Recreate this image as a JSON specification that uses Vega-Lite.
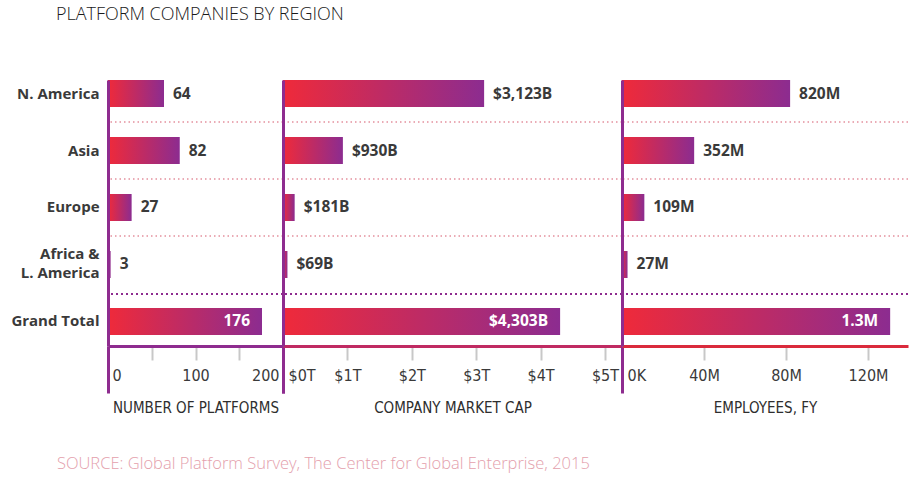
{
  "$schema": "https://vega.github.io/schema/vega-lite/v6.json",
  "background": "white",
  "padding": {"left": 10, "top": 6, "right": 5, "bottom": 5},
  "title": {"text": "PLATFORM COMPANIES BY REGION", "anchor": "start", "font": "Open Sans", "fontSize": 18, "fontWeight": 300, "color": "#1a1a1a", "dx": 45, "offset": 56},
  "data": {"values": [
    {"region": "N. America", "platforms": 64, "marketcap": 3123, "employees": 82.0, "platformsLabel": "64", "capLabel": "$3,123B", "empLabel": "820M"},
    {"region": "Asia", "platforms": 82, "marketcap": 930, "employees": 35.2, "platformsLabel": "82", "capLabel": "$930B", "empLabel": "352M"},
    {"region": "Europe", "platforms": 27, "marketcap": 181, "employees": 10.9, "platformsLabel": "27", "capLabel": "$181B", "empLabel": "109M"},
    {"region": "Africa & L. America", "platforms": 3, "marketcap": 69, "employees": 2.7, "platformsLabel": "3", "capLabel": "$69B", "empLabel": "27M"},
    {"region": "Grand Total", "platforms": 176, "marketcap": 4303, "employees": 130.8, "platformsLabel": "176", "capLabel": "$4,303B", "empLabel": "1.3M"}
  ]},
  "vconcat": [
    {
      "title": {"text": "SOURCE: Global Platform Survey, The Center for Global Enterprise, 2015", "orient": "bottom", "anchor": "start", "font": "Open Sans", "fontSize": 16.5, "fontWeight": 300, "color": "#E4A0AC", "dx": 46, "offset": 40},
      "spacing": 0,
      "bounds": "flush",
      "resolve": {"scale": {"x": "independent"}},
      "hconcat": [
        {
          "width": 175, "height": 266,
          "encoding": {
            "y": {"field": "region", "type": "nominal", "sort": null,
              "scale": {"domain": ["N. America", "Asia", "Europe", "Africa & L. America", "Grand Total"], "paddingInner": 0.526, "paddingOuter": 0.0965, "align": 0},
              "axis": {"title": null, "ticks": false, "grid": false, "domainColor": "#8E2C8F", "domainWidth": 3, "zindex": 1, "labelFont": "Open Sans", "labelFontWeight": "bold", "labelFontSize": 15, "labelColor": "#3a3a3a", "labelPadding": 9, "labelLineHeight": 18.5,
                "labelOffset": {"condition": {"test": "datum.value === 'Africa & L. America'", "value": -10}, "value": 0},
                "labelExpr": "datum.value === 'Africa & L. America' ? ['Africa &', 'L. America'] : datum.label"}}
          },
          "layer": [
            {"mark": {"type": "bar", "fill": {"gradient": "linear", "x1": 0, "x2": 1, "y1": 0, "y2": 0, "stops": [{"offset": 0, "color": "#EF2A3A"}, {"offset": 1, "color": "#8C2C90"}]}},
             "encoding": {"x": {"field": "platforms", "type": "quantitative", "scale": {"domain": [0, 200], "nice": false},
               "axis": {"values": [0, 50, 100, 150, 200], "labelExpr": "datum.value % 100 === 0 ? datum.label : ''", "title": "NUMBER OF PLATFORMS", "grid": false, "zindex": 1,
                 "domainColor": "#8E2C8F", "domainWidth": 3,
                 "tickColor": {"condition": {"test": "datum.value === 0 || datum.value === 200", "value": "#8E2C8F"}, "value": "#C8C8C8"},
                 "tickWidth": {"condition": {"test": "datum.value === 0 || datum.value === 200", "value": 3}, "value": 2},
                 "tickSize": {"condition": {"test": "datum.value === 0 || datum.value === 200", "value": 47}, "value": 14},
                 "labelPadding": {"condition": {"test": "datum.value === 0 || datum.value === 200", "value": -26}, "value": 7},
                 "labelAlign": {"condition": [{"test": "datum.value === 0", "value": "left"}, {"test": "datum.value === 200", "value": "right"}], "value": "center"},
                 "labelOffset": {"condition": [{"test": "datum.value === 0", "value": 4}, {"test": "datum.value === 200", "value": -4}], "value": 0},
                 "labelFont": "Liberation Sans Narrow, DejaVu Sans Condensed, sans-serif", "labelFontSize": 16, "labelColor": "#3a3a3a",
                 "titleFont": "Liberation Sans Narrow, DejaVu Sans Condensed, sans-serif", "titleFontSize": 15, "titleFontWeight": 500, "titleColor": "#2e2e2e", "titlePadding": 6}}}},
            {"transform": [{"filter": "datum.region !== 'N. America' && datum.region !== 'Grand Total'"}],
             "mark": {"type": "rule", "stroke": "#E3909D", "strokeWidth": 1.5, "strokeDash": [1.5, 3], "yOffset": -15},
             "encoding": {"y": {"field": "region", "type": "nominal", "sort": null, "bandPosition": 0}}},
            {"transform": [{"filter": "datum.region === 'Grand Total'"}],
             "mark": {"type": "rule", "stroke": "#8E2C8F", "strokeWidth": 2, "strokeDash": [2, 3], "yOffset": -14},
             "encoding": {"y": {"field": "region", "type": "nominal", "sort": null, "bandPosition": 0}}},
            {"transform": [{"filter": "datum.region !== 'Grand Total'"}],
             "mark": {"type": "text", "align": "left", "baseline": "middle", "dx": 9, "font": "Open Sans", "fontWeight": "bold", "fontSize": 15.5, "color": "#3a3a3a"},
             "encoding": {"x": {"field": "platforms", "type": "quantitative"}, "text": {"field": "platformsLabel"}}},
            {"transform": [{"filter": "datum.region === 'Grand Total'"}],
             "mark": {"type": "text", "align": "right", "baseline": "middle", "dx": -12, "font": "Open Sans", "fontWeight": "bold", "fontSize": 15.5, "color": "white"},
             "encoding": {"x": {"field": "platforms", "type": "quantitative"}, "text": {"field": "platformsLabel"}}}
          ]
        },
        {
          "width": 339, "height": 266,
          "encoding": {
            "y": {"field": "region", "type": "nominal", "sort": null,
              "scale": {"domain": ["N. America", "Asia", "Europe", "Africa & L. America", "Grand Total"], "paddingInner": 0.526, "paddingOuter": 0.0965, "align": 0},
              "axis": {"title": null, "ticks": false, "labels": false, "grid": false, "domainColor": "#8E2C8F", "domainWidth": 3, "zindex": 1, "minExtent": 0, "maxExtent": 0}}
          },
          "layer": [
            {"mark": {"type": "bar", "fill": {"gradient": "linear", "x1": 0, "x2": 1, "y1": 0, "y2": 0, "stops": [{"offset": 0, "color": "#EF2A3A"}, {"offset": 1, "color": "#8C2C90"}]}},
             "encoding": {"x": {"field": "marketcap", "type": "quantitative", "scale": {"domain": [0, 5264], "nice": false},
               "axis": {"values": [0, 1000, 2000, 3000, 4000, 5000], "labelExpr": "'$' + (datum.value / 1000) + 'T'", "title": "COMPANY MARKET CAP", "grid": false, "zindex": 1,
                 "domainColor": "#C02A62", "domainWidth": 3,
                 "tickColor": {"condition": {"test": "datum.value === 0", "value": "#8E2C8F"}, "value": "#C8C8C8"},
                 "tickWidth": {"condition": {"test": "datum.value === 0", "value": 3}, "value": 2},
                 "tickSize": {"condition": {"test": "datum.value === 0", "value": 47}, "value": 14},
                 "labelPadding": {"condition": {"test": "datum.value === 0", "value": -26}, "value": 7},
                 "labelAlign": {"condition": {"test": "datum.value === 0", "value": "left"}, "value": "center"},
                 "labelOffset": {"condition": {"test": "datum.value === 0", "value": 5}, "value": 0},
                 "labelFont": "Liberation Sans Narrow, DejaVu Sans Condensed, sans-serif", "labelFontSize": 16, "labelColor": "#3a3a3a",
                 "titleFont": "Liberation Sans Narrow, DejaVu Sans Condensed, sans-serif", "titleFontSize": 15, "titleFontWeight": 500, "titleColor": "#2e2e2e", "titlePadding": 6}}}},
            {"transform": [{"filter": "datum.region !== 'N. America' && datum.region !== 'Grand Total'"}],
             "mark": {"type": "rule", "stroke": "#E3909D", "strokeWidth": 1.5, "strokeDash": [1.5, 3], "yOffset": -15},
             "encoding": {"y": {"field": "region", "type": "nominal", "sort": null, "bandPosition": 0}}},
            {"transform": [{"filter": "datum.region === 'Grand Total'"}],
             "mark": {"type": "rule", "stroke": "#8E2C8F", "strokeWidth": 2, "strokeDash": [2, 3], "yOffset": -14},
             "encoding": {"y": {"field": "region", "type": "nominal", "sort": null, "bandPosition": 0}}},
            {"transform": [{"filter": "datum.region !== 'Grand Total'"}],
             "mark": {"type": "text", "align": "left", "baseline": "middle", "dx": 9, "font": "Open Sans", "fontWeight": "bold", "fontSize": 15.5, "color": "#3a3a3a"},
             "encoding": {"x": {"field": "marketcap", "type": "quantitative"}, "text": {"field": "capLabel"}}},
            {"transform": [{"filter": "datum.region === 'Grand Total'"}],
             "mark": {"type": "text", "align": "right", "baseline": "middle", "dx": -12, "font": "Open Sans", "fontWeight": "bold", "fontSize": 15.5, "color": "white"},
             "encoding": {"x": {"field": "marketcap", "type": "quantitative"}, "text": {"field": "capLabel"}}}
          ]
        },
        {
          "width": 286, "height": 266,
          "encoding": {
            "y": {"field": "region", "type": "nominal", "sort": null,
              "scale": {"domain": ["N. America", "Asia", "Europe", "Africa & L. America", "Grand Total"], "paddingInner": 0.526, "paddingOuter": 0.0965, "align": 0},
              "axis": {"title": null, "ticks": false, "labels": false, "grid": false, "domainColor": "#8E2C8F", "domainWidth": 3, "zindex": 1, "minExtent": 0, "maxExtent": 0}}
          },
          "layer": [
            {"mark": {"type": "bar", "fill": {"gradient": "linear", "x1": 0, "x2": 1, "y1": 0, "y2": 0, "stops": [{"offset": 0, "color": "#EF2A3A"}, {"offset": 1, "color": "#8C2C90"}]}},
             "encoding": {"x": {"field": "employees", "type": "quantitative", "scale": {"domain": [0, 139.5], "nice": false},
               "axis": {"values": [0, 40, 80, 120], "labelExpr": "datum.value === 0 ? '0K' : datum.value + 'M'", "title": "EMPLOYEES, FY", "grid": false, "zindex": 1,
                 "domainColor": "#DA2A3C", "domainWidth": 3,
                 "tickColor": {"condition": {"test": "datum.value === 0", "value": "#8E2C8F"}, "value": "#C8C8C8"},
                 "tickWidth": {"condition": {"test": "datum.value === 0", "value": 3}, "value": 2},
                 "tickSize": {"condition": {"test": "datum.value === 0", "value": 47}, "value": 14},
                 "labelPadding": {"condition": {"test": "datum.value === 0", "value": -26}, "value": 7},
                 "labelAlign": {"condition": {"test": "datum.value === 0", "value": "left"}, "value": "center"},
                 "labelOffset": {"condition": {"test": "datum.value === 0", "value": 5}, "value": 0},
                 "labelFont": "Liberation Sans Narrow, DejaVu Sans Condensed, sans-serif", "labelFontSize": 16, "labelColor": "#3a3a3a",
                 "titleFont": "Liberation Sans Narrow, DejaVu Sans Condensed, sans-serif", "titleFontSize": 15, "titleFontWeight": 500, "titleColor": "#2e2e2e", "titlePadding": 6}}}},
            {"transform": [{"filter": "datum.region !== 'N. America' && datum.region !== 'Grand Total'"}],
             "mark": {"type": "rule", "stroke": "#E3909D", "strokeWidth": 1.5, "strokeDash": [1.5, 3], "yOffset": -15},
             "encoding": {"y": {"field": "region", "type": "nominal", "sort": null, "bandPosition": 0}}},
            {"transform": [{"filter": "datum.region === 'Grand Total'"}],
             "mark": {"type": "rule", "stroke": "#8E2C8F", "strokeWidth": 2, "strokeDash": [2, 3], "yOffset": -14},
             "encoding": {"y": {"field": "region", "type": "nominal", "sort": null, "bandPosition": 0}}},
            {"transform": [{"filter": "datum.region !== 'Grand Total'"}],
             "mark": {"type": "text", "align": "left", "baseline": "middle", "dx": 9, "font": "Open Sans", "fontWeight": "bold", "fontSize": 15.5, "color": "#3a3a3a"},
             "encoding": {"x": {"field": "employees", "type": "quantitative"}, "text": {"field": "empLabel"}}},
            {"transform": [{"filter": "datum.region === 'Grand Total'"}],
             "mark": {"type": "text", "align": "right", "baseline": "middle", "dx": -12, "font": "Open Sans", "fontWeight": "bold", "fontSize": 15.5, "color": "white"},
             "encoding": {"x": {"field": "employees", "type": "quantitative"}, "text": {"field": "empLabel"}}}
          ]
        }
      ]
    }
  ],
  "config": {"view": {"stroke": null}}
}
